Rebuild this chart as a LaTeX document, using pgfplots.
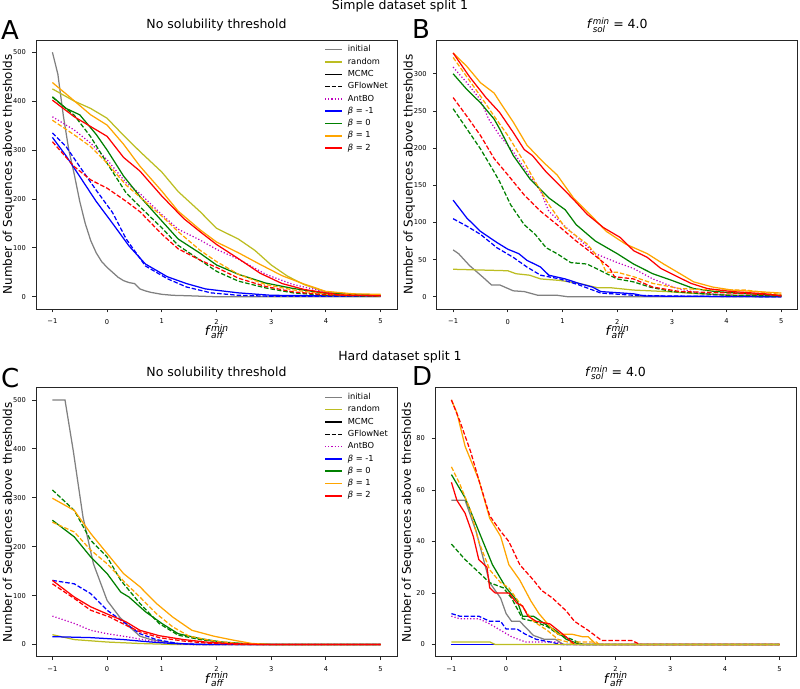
\documentclass[border=0pt]{standalone}
\usepackage{fontspec}
\setmainfont{DejaVu Sans}[ItalicFont={DejaVu Sans Oblique},BoldFont={DejaVu Sans Bold}]
\usepackage{pgfplots}
\pgfplotsset{compat=1.18}
\definecolor{initcol}{HTML}{808080}
\definecolor{randcol}{HTML}{BCBD22}
\definecolor{antcol}{HTML}{BF00BF}
\definecolor{bluecol}{HTML}{0000FF}
\definecolor{greencol}{HTML}{008000}
\definecolor{orangecol}{HTML}{FFA500}
\definecolor{redcol}{HTML}{FF0000}
\newcommand{\faff}{\textit{f}\rlap{\raisebox{-3.4pt}{\fontsize{9.1}{9}\selectfont\textit{aff}}}\raisebox{4.2pt}{\fontsize{9.1}{9}\selectfont\textit{min}}}
\newcommand{\fsol}{\textit{f}\rlap{\raisebox{-3.3pt}{\fontsize{8.75}{9}\selectfont\textit{sol}}}\raisebox{4pt}{\fontsize{8.75}{9}\selectfont\textit{min}} = 4.0}
\pgfplotsset{
  mc/.style={solid, line width=1.25pt, forget plot},
  gf/.style={dash pattern=on 4.5pt off 2pt, line width=1.25pt, forget plot},
  ant/.style={color=antcol, dash pattern=on 1.2pt off 2pt, line width=1.25pt, forget plot},
  myax/.style={
    scale only axis, width=361pt, height=269pt,
    xmin=-1.3, xmax=5.3,
    xtick={-1,0,1,2,3,4,5}, xticklabels={−1,0,1,2,3,4,5},
    tick align=outside, xtick pos=bottom, ytick pos=left,
    major tick length=3.5pt,
    xticklabel shift=3pt, yticklabel shift=3pt,
    tick style={black!85, line width=0.8pt},
    axis line style={black!85, line width=0.8pt},
    ticklabel style={font=\fontsize{6.7}{8}\selectfont},
    /pgf/number format/assume math mode=true,
    title style={font=\fontsize{12.5}{14}\selectfont, at={(0.5,1)}, anchor=base, yshift=5pt},
    every axis x label/.style={at={(axis description cs:0.5,-0.098)}, anchor=base, inner sep=0pt},
    every axis y label/.style={at={(axis description cs:-0.067,0.5)}, rotate=90, anchor=base, inner sep=0pt},
    xlabel={\fontsize{13}{14}\selectfont\faff},
    ylabel={Number of Sequences above thresholds},
    ylabel style={font=\fontsize{12}{14}\selectfont},
    legend cell align=left,
  },
  leg/.style={
    legend style={at={(rel axis cs:0.975,0.98)}, anchor=north east, draw=none, fill=none,
      inner sep=0pt, font=\fontsize{8.3}{10}\selectfont,
      nodes={inner sep=0pt, text height=6.3pt, text depth=2pt},
      row sep=4pt, column sep=5pt},
    legend image code/.code={\draw[##1] (0pt,0pt) -- (17pt,0pt);},
  },
}
\newcommand{\addlegs}{%
  \addlegendimage{color=initcol, solid, line width=1.5pt}\addlegendentry{initial}
  \addlegendimage{color=randcol, solid, line width=1.5pt}\addlegendentry{random}
  \addlegendimage{color=black, solid, line width=1.5pt}\addlegendentry{MCMC}
  \addlegendimage{color=black, dash pattern=on 4.5pt off 2pt, line width=1.5pt}\addlegendentry{GFlowNet}
  \addlegendimage{color=antcol, dash pattern=on 1.2pt off 2pt, line width=1.5pt}\addlegendentry{AntBO}
  \addlegendimage{color=bluecol, solid, line width=1.5pt}\addlegendentry{{\itshape β} = -1}
  \addlegendimage{color=greencol, solid, line width=1.5pt}\addlegendentry{{\itshape β} = 0}
  \addlegendimage{color=orangecol, solid, line width=1.5pt}\addlegendentry{{\itshape β} = 1}
  \addlegendimage{color=redcol, solid, line width=1.5pt}\addlegendentry{{\itshape β} = 2}
}
\begin{document}
\begin{tikzpicture}
% ---------------- Panel A ----------------
\begin{axis}[myax, leg, at={(36pt,379pt)}, anchor=south west,
  ymin=-25, ymax=525, ytick={0,100,200,300,400,500},
  title={No solubility threshold}]
\addplot[mc, color=initcol] coordinates {(-1,500) (-0.9,455) (-0.8,370) (-0.7,300) (-0.6,250) (-0.5,195) (-0.4,150) (-0.3,115) (-0.2,90) (-0.1,72) (0,60) (0.1,50) (0.2,40) (0.3,33) (0.4,29) (0.5,27) (0.6,16) (0.7,12) (0.8,9) (1,5) (1.2,3) (1.5,2) (2,0) (5,0)};
\addplot[mc, color=randcol] coordinates {(-1,425) (-0.6,400) (-0.3,385) (0,365) (0.3,330) (0.6,297) (1,255) (1.3,215) (1.7,174) (2,140) (2.4,118) (2.7,95) (3,65) (3.3,42) (3.6,25) (4,10) (4.5,5) (5,3)};
\addplot[ant] coordinates {(-1,368) (-0.6,341) (-0.3,314) (0,280) (0.35,233) (0.6,211) (1,168) (1.3,138) (1.7,116) (2,97) (2.4,77) (2.9,46) (3.4,25) (4,10) (4.5,4) (5,3)};
\addplot[mc, color=bluecol] coordinates {(-1,326) (-0.75,288) (-0.5,246) (-0.2,195) (0.1,150) (0.4,104) (0.7,67) (1.1,41) (1.45,27) (1.8,16) (2.4,8) (3,3) (4,2) (5,2)};
\addplot[gf, color=bluecol] coordinates {(-1,335) (-0.75,307) (-0.5,266) (-0.2,218) (0.1,172) (0.35,118) (0.7,63) (1.1,37) (1.45,20) (1.9,8) (2.4,3) (3,1) (5,1)};
\addplot[mc, color=greencol] coordinates {(-1,409) (-0.75,385) (-0.5,372) (-0.2,332) (0,300) (0.3,247) (0.6,205) (1,155) (1.3,118) (1.7,89) (2,65) (2.4,46) (2.9,28) (3.4,17) (4,7) (5,3)};
\addplot[gf, color=greencol] coordinates {(-1,408) (-0.6,371) (-0.3,327) (0,273) (0.35,212) (0.6,184) (1,141) (1.3,105) (1.7,75) (2,52) (2.4,32) (2.9,18) (3.4,8) (4,3) (5,1)};
\addplot[mc, color=orangecol] coordinates {(-1,438) (-0.7,410) (-0.3,372) (0,351) (0.3,312) (0.6,267) (1,216) (1.3,175) (1.7,137) (2,112) (2.4,90) (2.8,66) (3.2,43) (3.6,26) (4,11) (4.5,6) (5,5)};
\addplot[gf, color=orangecol] coordinates {(-1,361) (-0.6,331) (-0.3,307) (0,273) (0.35,228) (0.6,204) (1,165) (1.3,133) (1.7,95) (2,72) (2.4,46) (2.9,25) (3.4,14) (4,5) (5,2)};
\addplot[mc, color=redcol] coordinates {(-1,402) (-0.6,368) (-0.3,348) (0,328) (0.3,285) (0.6,257) (1,206) (1.4,160) (1.7,133) (2,107) (2.4,78) (2.8,48) (3.2,27) (3.6,15) (4,8) (4.3,3) (5,2)};
\addplot[gf, color=redcol] coordinates {(-1,317) (-0.6,266) (-0.3,239) (0,222) (0.35,195) (0.6,174) (1,128) (1.3,98) (1.7,75) (2,60) (2.4,38) (2.9,21) (3.4,10) (4,4) (5,2)};
\addlegs
\end{axis}
% ---------------- Panel B ----------------
\begin{axis}[myax, at={(436.7pt,379pt)}, anchor=south west,
  ymin=-16.45, ymax=345.45, ytick={0,50,100,150,200,250,300},
  title={\fsol}]
\addplot[mc, color=initcol] coordinates {(-1,63) (-0.9,58) (-0.7,42) (-0.45,26) (-0.3,16) (-0.15,16) (0.1,8) (0.3,7) (0.55,2) (0.9,2) (1.1,0) (5,0)};
\addplot[mc, color=randcol] coordinates {(-1,37) (-0.5,36) (0,35) (0.15,31) (0.4,29) (0.6,24) (0.95,22) (1.3,18) (1.65,12) (1.9,12) (2.3,9) (2.9,7) (3.5,4) (4.2,2) (5,1)};
\addplot[ant] coordinates {(-1,309) (-0.75,288) (-0.5,265) (-0.35,239) (-0.15,217) (0.1,195) (0.35,168) (0.6,142) (0.75,115) (1.1,91) (1.4,71) (1.6,58) (2,46) (2.3,38) (2.65,24) (3.1,11) (3.5,5) (4,2) (5,1)};
\addplot[mc, color=bluecol] coordinates {(-1,130) (-0.75,106) (-0.5,88) (-0.2,73) (0,64) (0.2,58) (0.35,49) (0.6,40) (0.75,29) (1.05,24) (1.3,18) (1.55,13) (1.7,7) (2.3,4) (2.5,1) (5,0)};
\addplot[gf, color=bluecol] coordinates {(-1,105) (-0.75,95) (-0.5,84) (-0.2,66) (0.1,53) (0.35,40) (0.6,29) (0.95,24) (1.3,16) (1.7,5) (2.3,2) (2.9,1) (5,0)};
\addplot[mc, color=greencol] coordinates {(-1,300) (-0.75,279) (-0.5,261) (-0.25,239) (-0.15,226) (0.1,190) (0.4,159) (0.75,133) (1.05,117) (1.25,97) (1.6,75) (2,58) (2.3,44) (2.65,31) (3,22) (3.4,11) (3.8,7) (4.4,4) (5,2)};
\addplot[gf, color=greencol] coordinates {(-1,253) (-0.75,226) (-0.5,199) (-0.25,168) (-0.15,155) (0.05,124) (0.3,97) (0.5,84) (0.7,66) (0.9,58) (1.15,46) (1.45,44) (1.7,35) (2,24) (2.3,20) (2.6,13) (3,7) (4,2) (5,1)};
\addplot[mc, color=orangecol] coordinates {(-1,328) (-0.75,310) (-0.5,288) (-0.25,274) (-0.1,257) (0.1,235) (0.35,204) (0.65,181) (0.9,164) (1.2,133) (1.5,111) (1.8,88) (2.15,71) (2.55,58) (2.85,44) (3.15,31) (3.4,20) (3.75,13) (4.1,9) (5,5)};
\addplot[gf, color=orangecol] coordinates {(-1,322) (-0.75,296) (-0.5,270) (-0.25,243) (0,217) (0.3,181) (0.5,155) (0.75,124) (1.05,93) (1.45,71) (1.7,49) (1.8,33) (2,33) (2.3,27) (2.65,18) (3.15,11) (3.8,9) (4.35,9) (5,3)};
\addplot[mc, color=redcol] coordinates {(-1,328) (-0.7,296) (-0.4,268) (-0.15,248) (0.1,221) (0.3,198) (0.45,190) (0.7,168) (1,146) (1.2,131) (1.45,111) (1.75,93) (2.05,80) (2.3,62) (2.55,53) (2.8,38) (3.1,27) (3.35,18) (3.65,11) (4.1,7) (4.7,4) (5,1)};
\addplot[gf, color=redcol] coordinates {(-1,268) (-0.75,243) (-0.5,217) (-0.25,186) (0,164) (0.3,137) (0.6,115) (0.9,97) (1.25,75) (1.55,58) (1.85,40) (1.95,27) (2.3,24) (2.65,13) (3.15,7) (4.1,5) (5,2)};
\end{axis}
% ---------------- Panel C ----------------
\begin{axis}[myax, leg, at={(36pt,31.3pt)}, anchor=south west,
  ymin=-25, ymax=525, ytick={0,100,200,300,400,500},
  title={No solubility threshold}]
\addplot[mc, color=initcol] coordinates {(-1,500) (-0.77,500) (-0.62,397) (-0.44,260) (-0.25,165) (0,90) (0.23,56) (0.41,36) (0.6,17) (0.8,10) (1.2,3) (1.6,0) (5,0)};
\addplot[mc, color=randcol] coordinates {(-1,20) (-0.6,10) (0,5) (0.6,2) (1.2,0) (5,0)};
\addplot[ant] coordinates {(-1,58) (-0.6,43) (-0.3,29) (0,22) (0.35,16) (0.7,9) (1.1,3) (1.5,0) (5,0)};
\addplot[mc, color=bluecol] coordinates {(-1,16) (-0.3,14) (0.3,10) (0.8,5) (1.2,2) (1.8,0) (5,0)};
\addplot[gf, color=bluecol] coordinates {(-1,131) (-0.6,124) (-0.3,104) (0,70) (0.25,50) (0.6,22) (0.9,10) (1.3,2) (1.6,0) (5,0)};
\addplot[mc, color=greencol] coordinates {(-1,254) (-0.6,220) (-0.3,179) (0,145) (0.25,107) (0.4,97) (0.7,67) (1,43) (1.3,22) (1.7,12) (2.1,5) (2.5,2) (3,0) (5,0)};
\addplot[gf, color=greencol] coordinates {(-1,316) (-0.6,274) (-0.3,213) (0,179) (0.25,131) (0.6,84) (0.95,43) (1.3,19) (1.7,10) (2.2,3) (2.6,0) (5,0)};
\addplot[mc, color=orangecol] coordinates {(-1,299) (-0.6,274) (-0.3,227) (0,186) (0.3,145) (0.6,118) (0.9,84) (1.2,56) (1.55,29) (1.95,17) (2.3,9) (2.65,2) (3,0) (5,0)};
\addplot[gf, color=orangecol] coordinates {(-1,250) (-0.6,230) (-0.3,193) (0,165) (0.35,124) (0.6,97) (0.9,63) (1.2,36) (1.5,17) (1.95,7) (2.4,2) (2.8,0) (5,0)};
\addplot[mc, color=redcol] coordinates {(-1,131) (-0.6,97) (-0.3,77) (0.05,60) (0.35,46) (0.6,29) (0.95,18) (1.4,10) (1.8,5) (2.2,2) (2.8,0) (5,0)};
\addplot[gf, color=redcol] coordinates {(-1,124) (-0.6,94) (-0.3,70) (0.05,56) (0.35,39) (0.6,26) (0.95,14) (1.4,7) (1.8,3) (2.4,0) (5,0)};
\addlegs
\end{axis}
% ---------------- Panel D ----------------
\begin{axis}[myax, at={(435pt,31.3pt)}, anchor=south west,
  ymin=-4.75, ymax=99.75, ytick={0,20,40,60,80},
  title={\fsol}]
\addplot[mc, color=initcol] coordinates {(-1,56) (-0.75,56) (-0.55,44) (-0.3,24) (-0.1,18) (0,12) (0.1,9) (0.25,9) (0.5,3.5) (0.7,2) (0.9,2) (1.05,0) (5,0)};
\addplot[ant] coordinates {(-1,11) (-0.85,10) (-0.5,10) (-0.3,8) (-0.1,5.5) (0.1,3) (0.35,1) (0.9,1) (1.05,0) (5,0)};
\addplot[mc, color=bluecol] coordinates {(-1,0) (5,0)};
\addplot[gf, color=bluecol] coordinates {(-1,12) (-0.85,11) (-0.5,11) (-0.3,9) (-0.1,9) (0,6) (0.2,6) (0.35,4) (0.55,2) (0.8,1) (1,0) (5,0)};
\addplot[mc, color=greencol] coordinates {(-1,66) (-0.75,57) (-0.5,44) (-0.25,31) (0,22) (0.2,17) (0.3,11) (0.5,11) (0.75,7.4) (0.9,5.5) (1.1,2) (1.35,0) (5,0)};
\addplot[gf, color=greencol] coordinates {(-1,39) (-0.75,33) (-0.5,28) (-0.3,24) (-0.05,22) (0.1,18) (0.3,10) (0.5,9) (0.75,7) (0.95,4) (1.2,2) (1.4,0) (5,0)};
\addplot[mc, color=orangecol] coordinates {(-1,95) (-0.9,90) (-0.75,77) (-0.5,64) (-0.3,49) (-0.1,42) (0.05,31) (0.25,25) (0.45,17) (0.6,12) (0.8,7) (0.95,4) (1.2,4) (1.4,3) (1.5,3) (1.65,0) (5,0)};
\addplot[gf, color=orangecol] coordinates {(-1,69) (-0.85,62.5) (-0.65,52) (-0.5,40) (-0.3,29) (-0.1,24) (0.05,22) (0.25,16) (0.5,9) (0.75,5.5) (0.95,2) (1.2,0.5) (1.3,1) (1.65,1) (1.7,0) (5,0)};
\addplot[mc, color=redcol] coordinates {(-1,63) (-0.9,56) (-0.75,51) (-0.6,42) (-0.5,33) (-0.35,30) (-0.3,22) (-0.2,20) (0.05,20) (0.2,16) (0.3,15) (0.4,11) (0.55,9) (0.8,8) (0.95,5.5) (1.15,2) (1.25,0) (5,0)};
\addplot[gf, color=redcol] coordinates {(-1,95) (-0.85,87) (-0.65,75) (-0.5,64) (-0.3,50) (-0.1,44) (0.05,40) (0.25,31) (0.5,25) (0.65,21) (0.85,18) (1.1,13) (1.25,9) (1.5,5.5) (1.75,1.5) (2.3,1.5) (2.45,0) (5,0)};
\addplot[mc, color=randcol] coordinates {(-1,1) (-0.3,1) (-0.2,0) (5,0)};
\end{axis}
% ---------------- super titles and panel letters ----------------
\node[anchor=base, font=\fontsize{12.5}{14}\selectfont] at (400pt,678pt) {Simple dataset split 1};
\node[anchor=base, font=\fontsize{12.5}{14}\selectfont] at (400pt,327pt) {Hard dataset split 1};
\node[anchor=base west, inner sep=0pt, font=\fontsize{26}{28}\selectfont] at (1pt,648.5pt) {A};
\node[anchor=base west, inner sep=0pt, font=\fontsize{26}{28}\selectfont] at (412pt,649.5pt) {B};
\node[anchor=base west, inner sep=0pt, font=\fontsize{26}{28}\selectfont] at (1pt,300pt) {C};
\node[anchor=base west, inner sep=0pt, font=\fontsize{26}{28}\selectfont] at (412pt,302pt) {D};
\pgfresetboundingbox
\path[use as bounding box] (0pt,0pt) rectangle (800pt,688pt);
\end{tikzpicture}
\end{document}
